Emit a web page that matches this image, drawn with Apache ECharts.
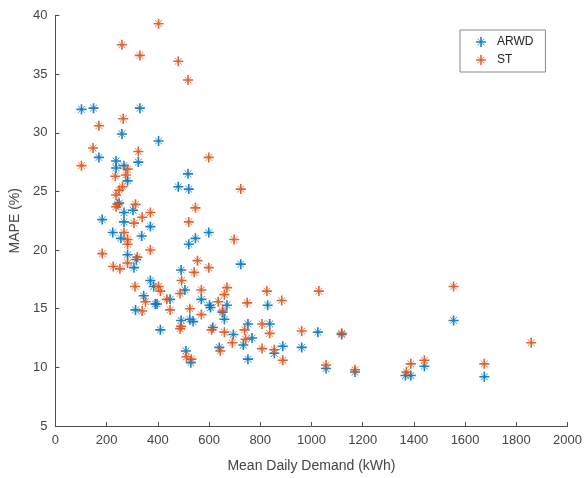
<!DOCTYPE html>
<html>
<head>
<meta charset="utf-8">
<script src="https://cdn.jsdelivr.net/npm/echarts@6/dist/echarts.min.js"></script>
<style>
  html, body { margin: 0; padding: 0; background: #fff; }
  #chart { width: 585px; height: 478px; }
</style>
</head>
<body>
<div id="chart"></div>
<script>
// ARWD points: [mean daily demand kWh, MAPE %]
const arwdPoints = [
  [102, 32.0], [149, 32.1], [330, 32.1], [260, 29.9], [403, 29.3], [170, 27.9], [237, 27.6], [237, 27.0],
  [268, 27.2], [324, 27.5], [282, 25.9], [518, 26.5], [480, 25.4], [521, 25.2], [249, 24.0], [268, 23.2],
  [303, 23.4], [183, 22.6], [268, 22.4], [371, 22.0], [224, 21.5], [337, 21.2], [256, 21.0], [282, 19.6],
  [316, 19.2], [307, 18.5], [599, 21.5], [547, 21.0], [521, 20.5], [724, 18.8], [491, 18.3], [371, 17.4],
  [384, 16.9], [345, 16.1], [506, 16.6], [390, 15.4], [448, 15.8], [570, 15.8], [602, 15.3], [670, 15.3],
  [829, 15.3], [313, 14.9], [397, 15.4], [410, 13.2], [491, 14.0], [525, 14.1], [538, 13.9], [510, 11.4],
  [529, 10.4], [606, 15.1], [615, 13.4], [653, 14.7], [660, 14.1], [640, 11.7], [695, 12.8], [734, 11.9],
  [752, 13.7], [752, 10.7], [768, 12.5], [837, 13.7], [855, 11.2], [888, 11.8], [962, 11.7], [1025, 13.0],
  [1118, 12.8], [1057, 9.9], [1170, 9.6], [1367, 9.3], [1388, 9.3], [1441, 10.1], [1555, 14.0], [1675, 9.2]
];

// ST points
const stPoints = [
  [403, 39.3], [260, 37.5], [330, 36.6], [480, 36.1], [518, 34.5], [265, 31.2], [170, 30.6], [147, 28.7],
  [324, 28.4], [599, 27.9], [102, 27.2], [282, 26.9], [234, 26.3], [275, 26.4], [262, 25.4], [249, 25.1],
  [724, 25.2], [237, 24.7], [243, 23.9], [313, 23.9], [237, 23.7], [547, 23.6], [339, 22.8], [371, 23.2],
  [307, 22.3], [521, 22.4], [268, 21.5], [282, 20.9], [282, 20.5], [698, 20.9], [371, 20.0], [183, 19.7],
  [320, 19.4], [282, 18.9], [226, 18.6], [252, 18.4], [555, 19.1], [599, 18.5], [542, 18.1], [493, 17.4],
  [311, 16.9], [403, 16.9], [410, 16.5], [487, 16.3], [570, 16.6], [670, 16.8], [660, 16.2], [826, 16.5],
  [1029, 16.5], [884, 15.7], [749, 15.5], [636, 15.6], [352, 15.6], [435, 15.8], [525, 15.0], [448, 14.9],
  [339, 14.8], [570, 14.5], [653, 14.8], [491, 13.5], [487, 13.3], [610, 13.2], [660, 13.0], [739, 13.2],
  [743, 12.4], [691, 12.1], [807, 13.7], [837, 12.9], [962, 13.1], [1118, 12.9], [807, 11.6], [855, 11.5],
  [888, 10.6], [644, 11.4], [512, 10.9], [531, 10.7], [1057, 10.2], [1170, 9.8], [1371, 9.6], [1388, 10.3],
  [1441, 10.6], [1555, 16.9], [1675, 10.3], [1858, 12.1]
];

const seriesNames = ['ARWD', 'ST'];
const seriesColors = ['#0072BD', '#D95319'];

// asterisk marker (plus + small diagonals)
const star = 'path://M-0.16,-1L0.16,-1L0.16,-0.22L0.62,-0.72L0.72,-0.62L0.22,-0.16L1,-0.16L1,0.16L0.22,0.16L0.72,0.62L0.62,0.72L0.16,0.22L0.16,1L-0.16,1L-0.16,0.22L-0.62,0.72L-0.72,0.62L-0.22,0.16L-1,0.16L-1,-0.16L-0.22,-0.16L-0.72,-0.62L-0.62,-0.72L-0.16,-0.22Z';

const chart = echarts.init(document.getElementById('chart'));
const axisGray = '#4d4d4d';

const option = {
  animation: false,
  textStyle: { fontFamily: 'Liberation Sans, Arial, sans-serif' },
  grid: { left: 48.5, right: 16.5, top: 15.5, bottom: 50.5 },
  legend: {
    orient: 'vertical',
    left: 460,
    top: 30,
    padding: [6, 12, 6, 16],
    itemGap: 6,
    itemWidth: 10,
    itemHeight: 10,
    borderColor: '#888',
    borderWidth: 1,
    backgroundColor: '#fff',
    textStyle: { fontSize: 12, color: '#222', padding: [0, 0, 0, 6] },
    data: seriesNames.map(n => ({ name: n, icon: star }))
  },
  xAxis: {
    type: 'value',
    min: 0, max: 2000, interval: 200,
    name: 'Mean Daily Demand (kWh)',
    nameLocation: 'middle',
    nameGap: 33,
    nameTextStyle: { fontSize: 14, color: '#444' },
    axisLine: { lineStyle: { color: axisGray, width: 1 } },
    axisTick: { inside: true, length: 4, lineStyle: { color: axisGray } },
    axisLabel: { fontSize: 13, color: '#444', margin: 8, formatter: v => String(v) },
    splitLine: { show: false }
  },
  yAxis: {
    type: 'value',
    min: 5, max: 40, interval: 5,
    name: 'MAPE (%)',
    nameLocation: 'middle',
    nameGap: 29,
    nameRotate: 90,
    nameTextStyle: { fontSize: 14, color: '#444' },
    axisLine: { show: true, lineStyle: { color: axisGray, width: 1 } },
    axisTick: { show: true, inside: true, length: 4, lineStyle: { color: axisGray } },
    axisLabel: { fontSize: 13, color: '#444', margin: 8 },
    splitLine: { show: false }
  },
  series: [
    {
      name: seriesNames[0],
      type: 'scatter',
      data: arwdPoints,
      symbol: star,
      symbolSize: 10,
      itemStyle: { color: seriesColors[0], opacity: 0.9 }
    },
    {
      name: seriesNames[1],
      type: 'scatter',
      data: stPoints,
      symbol: star,
      symbolSize: 10,
      itemStyle: { color: seriesColors[1], opacity: 0.9 }
    }
  ]
};

chart.setOption(option);
</script>
</body>
</html>
